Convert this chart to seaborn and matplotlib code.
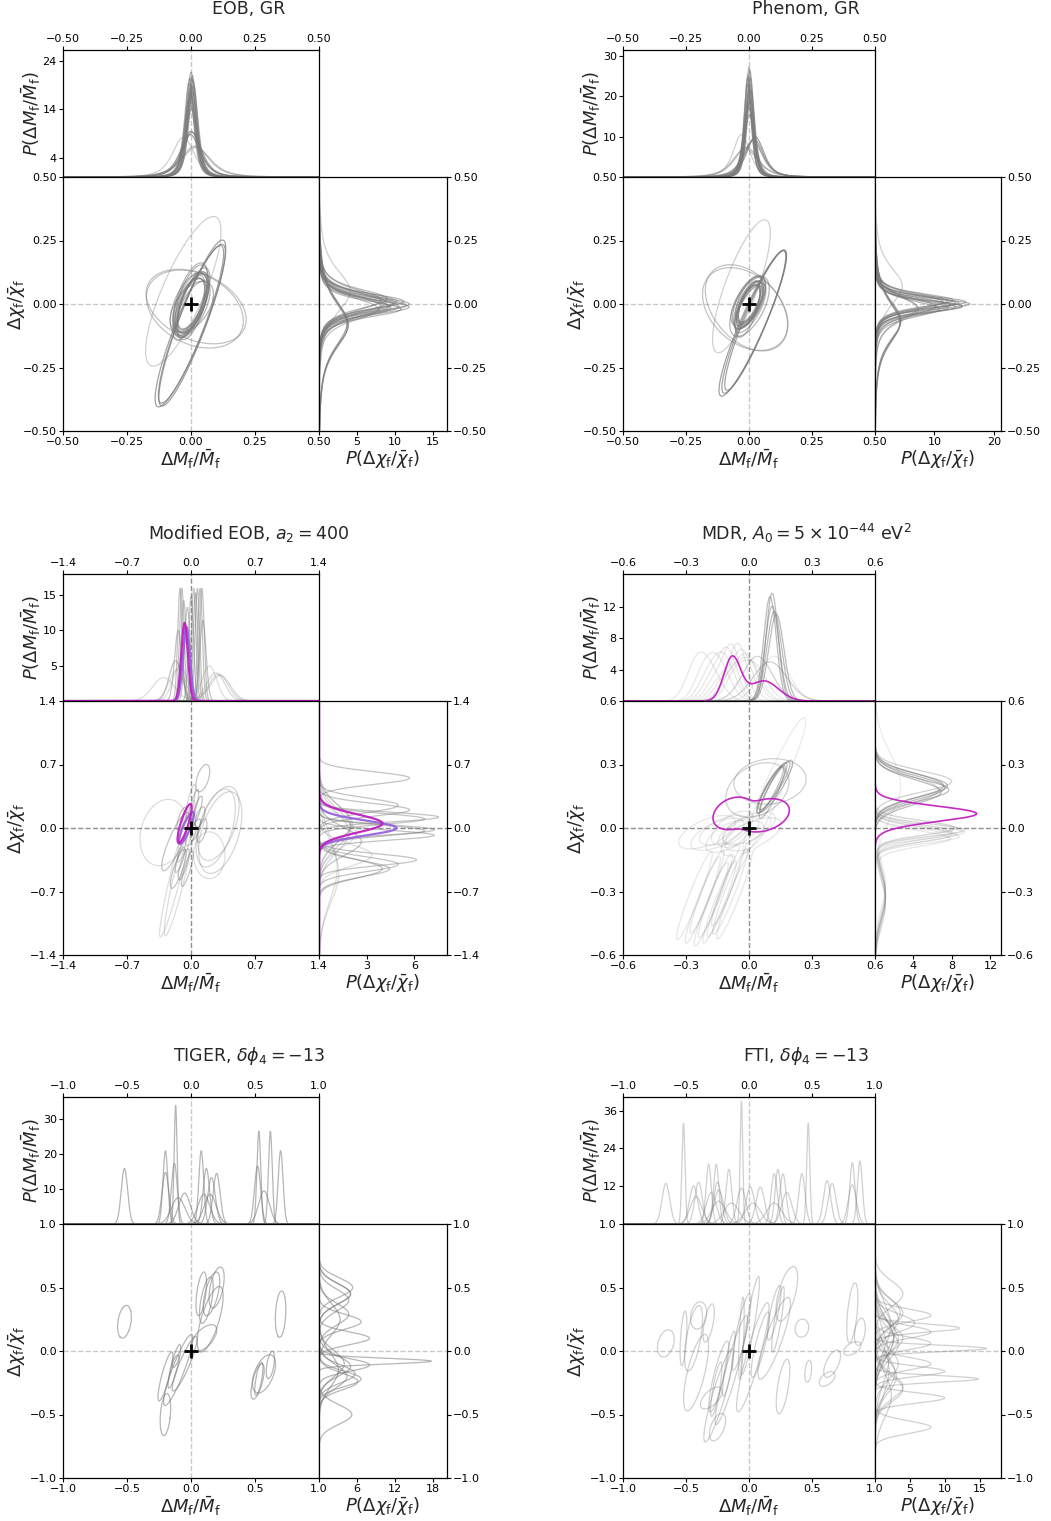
import numpy as np
import matplotlib
matplotlib.use("Agg")
import matplotlib.pyplot as plt
import seaborn as sns
from math import gamma, pi, sqrt

# ---------------------------------------------------------------- data
# each event: centre (X, Y), widths (SX, SY), correlation R
EOBGR_X = [0.0, 0.005, -0.005, 0.008, -0.008, 0.002, -0.003, 0.006, 0.0, -0.006, 0.004, 0.01, -0.002, 0.003,
           0.0, 0.005, -0.003, 0.02, 0.015, -0.03]
EOBGR_Y = [0.0, 0.01, -0.01, 0.005, -0.015, 0.02, -0.005, -0.02, 0.01, 0.0, -0.01, 0.005, 0.015, -0.012,
           -0.08, -0.075, -0.085, -0.01, -0.02, 0.05]
EOBGR_SX = [0.017, 0.0175, 0.018, 0.0185, 0.019, 0.0195, 0.02, 0.021, 0.022, 0.023, 0.018, 0.0195, 0.021, 0.026,
            0.039, 0.04, 0.042, 0.06, 0.058, 0.045]
EOBGR_SY = [0.031, 0.033, 0.035, 0.037, 0.039, 0.041, 0.032, 0.034, 0.036, 0.038, 0.040, 0.042, 0.045, 0.031,
            0.095, 0.1, 0.098, 0.045, 0.047, 0.09]
EOBGR_R = [0.6, 0.65, 0.55, 0.6, 0.7, 0.6, 0.5, 0.65, 0.6, 0.55, 0.6, 0.7, 0.6, 0.5,
           0.9, 0.9, 0.9, -0.35, -0.3, 0.8]

PHEN_X = [0.0, 0.004, -0.004, 0.006, -0.006, 0.002, -0.002, 0.005, 0.0, -0.005, 0.003, 0.008, -0.003, 0.002,
          0.02, 0.025, 0.015, -0.01, -0.015, -0.03]
PHEN_Y = [0.0, 0.008, -0.008, 0.004, -0.012, 0.015, -0.004, -0.015, 0.008, -0.02, -0.01, 0.004, 0.012, -0.01,
          -0.07, -0.065, -0.075, -0.015, -0.02, 0.07]
PHEN_SX = [0.0135, 0.014, 0.0145, 0.015, 0.016, 0.017, 0.018, 0.019, 0.02, 0.015, 0.016, 0.017, 0.021, 0.024,
           0.039, 0.037, 0.041, 0.05, 0.052, 0.035]
PHEN_SY = [0.023, 0.024, 0.025, 0.026, 0.027, 0.028, 0.029, 0.03, 0.032, 0.034, 0.025, 0.027, 0.03, 0.036,
           0.086, 0.084, 0.088, 0.052, 0.05, 0.08]
PHEN_R = [0.65, 0.7, 0.6, 0.65, 0.7, 0.6, 0.65, 0.7, 0.6, 0.65, 0.7, 0.6, 0.65, 0.6,
          0.92, 0.92, 0.92, -0.4, -0.35, 0.8]

MOD_X = [-0.12, -0.08, -0.04, 0.05, 0.10, 0.0, 0.13, -0.05, 0.27, 0.32, 0.30, -0.3, -0.15, -0.12, 0.2,
         0.12, -0.14, -0.1, 0.07, -0.17, 0.03]
MOD_Y = [-0.35, -0.40, -0.45, -0.02, 0.12, -0.08, 0.55, 0.05, 0.0, -0.05, 0.05, -0.05, -0.45, -0.5, -0.3,
         -0.03, -0.45, 0.1, 0.2, -0.15, 0.25]
MOD_SX = [0.025, 0.028, 0.03, 0.026, 0.025, 0.027, 0.035, 0.045, 0.1, 0.11, 0.105, 0.12, 0.09, 0.08, 0.08,
          0.025, 0.04, 0.025, 0.025, 0.07, 0.025]
MOD_SY = [0.065, 0.08, 0.09, 0.055, 0.053, 0.055, 0.07, 0.2, 0.2, 0.21, 0.19, 0.17, 0.35, 0.32, 0.12,
          0.06, 0.1, 0.06, 0.07, 0.15, 0.08]
MOD_R = [0.8, 0.8, 0.85, 0.7, 0.6, 0.7, 0.5, 0.9, 0.5, 0.45, 0.5, 0.2, 0.95, 0.93, 0.0,
         0.6, 0.8, 0.7, 0.8, 0.85, 0.8]
MOD_HL_X = [-0.05, -0.07]
MOD_HL_Y = [0.0, 0.05]
MOD_HL_SX = [0.038, 0.036]
MOD_HL_SY = [0.082, 0.1]
MOD_HL_R = [0.85, 0.82]

MDR_EV = [0, 1, 2, 3, 4, 5, 6, 7, 7, 8, 8, 9, 9, 10, 10, 11, 11, 12, 12, 13, 13, 14, 14, 15, 15, 16, 16, 17]
MDR_X = [0.10, 0.11, 0.12, 0.13, 0.11, 0.10, 0.04, -0.2, -0.26, -0.15, -0.22, -0.12, -0.2, -0.1, -0.18,
         -0.08, -0.16, -0.05, -0.14, -0.03, -0.12, -0.01, -0.1, 0.0, -0.09, 0.02, -0.07, 0.12]
MDR_Y = [0.18, 0.19, 0.20, 0.20, 0.17, 0.22, 0.18, -0.02, -0.32, -0.03, -0.34, -0.01, -0.3, -0.04, -0.36,
         0.0, -0.32, -0.02, -0.35, -0.05, -0.32, -0.01, -0.27, 0.0, -0.3, -0.03, -0.32, 0.2]
MDR_SX = [0.03, 0.033, 0.035, 0.036, 0.029, 0.08, 0.07, 0.06, 0.045, 0.055, 0.045, 0.05, 0.045, 0.045, 0.045,
          0.042, 0.045, 0.04, 0.045, 0.045, 0.045, 0.05, 0.045, 0.055, 0.045, 0.06, 0.045, 0.07]
MDR_SY = [0.052, 0.055, 0.053, 0.056, 0.058, 0.05, 0.06, 0.035, 0.11, 0.033, 0.11, 0.03, 0.11, 0.032, 0.11,
          0.034, 0.11, 0.03, 0.11, 0.036, 0.11, 0.031, 0.11, 0.033, 0.11, 0.035, 0.11, 0.15]
MDR_R = [0.9, 0.9, 0.9, 0.9, 0.9, 0.1, 0.3, 0.6, 0.95, 0.6, 0.95, 0.6, 0.95, 0.6, 0.95,
         0.6, 0.95, 0.6, 0.95, 0.6, 0.95, 0.6, 0.95, 0.6, 0.95, 0.6, 0.95, 0.95]
MDR_W = [1, 1, 1, 1, 1, 1, 1, 0.7, 0.3, 0.7, 0.3, 0.7, 0.3, 0.7, 0.3,
         0.7, 0.3, 0.7, 0.3, 0.7, 0.3, 0.7, 0.3, 0.7, 0.3, 0.7, 0.3, 1]
MDR_HL_EV = [0, 0]
MDR_HL_X = [-0.08, 0.07]
MDR_HL_Y = [0.07, 0.06]
MDR_HL_SX = [0.04, 0.07]
MDR_HL_SY = [0.033, 0.045]
MDR_HL_R = [0.3, 0.3]
MDR_HL_W = [0.55, 0.45]

TIG_X = [-0.52, 0.70, 0.53, 0.52, 0.57, 0.62, -0.2, -0.2, -0.12, -0.13, -0.1, -0.05, 0.08, 0.12, 0.2, 0.1, 0.15, 0.16]
TIG_Y = [0.23, 0.29, -0.22, -0.24, -0.18, -0.11, -0.5, -0.2, -0.08, -0.12, -0.15, -0.1, 0.45, 0.4, 0.5, 0.1, 0.25, 0.45]
TIG_SX = [0.025, 0.019, 0.015, 0.024, 0.042, 0.015, 0.019, 0.027, 0.0117, 0.023, 0.053, 0.045, 0.019, 0.025,
          0.0275, 0.047, 0.047, 0.03]
TIG_SY = [0.06, 0.085, 0.06, 0.065, 0.07, 0.05, 0.077, 0.09, 0.0225, 0.08, 0.13, 0.1, 0.08, 0.085, 0.075,
          0.05, 0.12, 0.08]
TIG_R = [0.3, 0.2, 0.7, 0.65, 0.5, 0.5, 0.3, 0.85, 0.7, 0.85, 0.9, 0.9, 0.5, 0.6, 0.5, 0.6, 0.7, 0.6]

FTI_X = [-0.66, -0.52, -0.44, -0.42, -0.32, -0.26, -0.24, -0.16, -0.24, -0.14, -0.06, -0.06, 0.01, 0.03, 0.09,
         0.2, 0.23, 0.2, 0.27, 0.42, 0.47, 0.62, 0.66, 0.82, 0.82, 0.88, -0.25, -0.3, 0.3, -0.4]
FTI_Y = [0.06, 0.1, 0.1, -0.17, 0.22, -0.3, -0.2, -0.1, -0.35, -0.15, 0.1, 0.15, 0.2, -0.05, 0.05,
         0.3, 0.25, 0.1, -0.28, 0.18, -0.16, -0.22, -0.1, 0.3, 0.02, 0.15, -0.6, -0.37, 0.45, 0.28]
FTI_SX = [0.031, 0.0125, 0.033, 0.046, 0.021, 0.021, 0.037, 0.023, 0.055, 0.06, 0.0102, 0.035, 0.034, 0.06, 0.034,
          0.025, 0.023, 0.06, 0.025, 0.025, 0.0125, 0.029, 0.031, 0.0205, 0.032, 0.02, 0.03, 0.04, 0.04, 0.03]
FTI_SY = [0.05, 0.1, 0.12, 0.14, 0.07, 0.1, 0.13, 0.12, 0.17, 0.2, 0.15, 0.14, 0.18, 0.2, 0.12,
          0.1, 0.12, 0.15, 0.1, 0.033, 0.04, 0.027, 0.05, 0.11, 0.025, 0.05, 0.05, 0.04, 0.1, 0.05]
FTI_R = [0.3, 0.5, 0.6, 0.7, 0.6, 0.8, 0.85, 0.85, 0.9, 0.93, 0.6, 0.85, 0.9, 0.9, 0.85,
         0.8, 0.85, 0.85, 0.6, 0.1, 0.3, 0.5, 0.6, 0.5, 0.5, 0.3, 0.5, 0.6, 0.6, 0.2]

TITLES = ["EOB, GR", "Phenom, GR", r"Modified EOB, $a_2 = 400$",
          r"MDR, $A_0 = 5 \times 10^{-44}$ eV$^2$", r"TIGER, $\delta\phi_4 = -13$", r"FTI, $\delta\phi_4 = -13$"]
MAIN_TICKS = [[-0.5, -0.25, 0, 0.25, 0.5], [-0.5, -0.25, 0, 0.25, 0.5], [-1.4, -0.7, 0, 0.7, 1.4],
              [-0.6, -0.3, 0, 0.3, 0.6], [-1, -0.5, 0, 0.5, 1], [-1, -0.5, 0, 0.5, 1]]
TOP_YTICKS = [[4, 14, 24], [10, 20, 30], [5, 10, 15], [4, 8, 12], [10, 20, 30], [12, 24, 36]]
TOP_YMAX = [26.2, 31.4, 18.0, 16.2, 36.4, 40.3]
RIGHT_XTICKS = [[5, 10, 15], [10, 20], [3, 6], [4, 8, 12], [6, 12, 18], [5, 10, 15]]
RIGHT_XMAX = [16.8, 21.2, 8.05, 13.1, 20.2, 18.0]

# ---------------------------------------------------------------- style
sns.set_style("ticks")
plt.rcParams["font.family"] = ["DejaVu Sans"]
plt.rcParams["mathtext.fontset"] = "dejavusans"
plt.rcParams.update({"xtick.labelsize": 8, "ytick.labelsize": 8, "axes.labelsize": 13,
                     "axes.edgecolor": "black", "axes.linewidth": 0.9,
                     "xtick.color": "black", "ytick.color": "black",
                     "xtick.major.size": 3, "ytick.major.size": 3,
                     "xtick.major.pad": 1.5, "ytick.major.pad": 1.5})

W_PX, H_PX = 1051, 1521
fig = plt.figure(figsize=(W_PX / 100, H_PX / 100), dpi=100)

COLS = [(63, 319, 447), (623, 875, 1001)]
ROWS = [(50, 177, 431), (574, 701, 955), (1097, 1224, 1478)]


def box(x0, y0, x1, y1):
    return [x0 / W_PX, 1 - y1 / H_PX, (x1 - x0) / W_PX, (y1 - y0) / H_PX]


def pdf2(X, Y, mx, my, sx, sy, r, nu):
    dx = (X - mx) / sx
    dy = (Y - my) / sy
    q = (dx * dx - 2 * r * dx * dy + dy * dy) / (1 - r * r)
    norm = 1.0 / (2 * pi * sx * sy * sqrt(1 - r * r))
    if nu:
        return norm * (1 + q / nu) ** (-(nu + 2) / 2)
    return norm * np.exp(-q / 2)


def pdf1(x, m, s, nu):
    z = (x - m) / s
    if nu:
        c = gamma((nu + 1) / 2) / (gamma(nu / 2) * sqrt(nu * pi) * s)
        return c * (1 + z * z / nu) ** (-(nu + 1) / 2)
    return np.exp(-z * z / 2) / (sqrt(2 * pi) * s)


def make_events(X, Y, SX, SY, R, EV=None, W=None):
    n = len(X)
    EV = list(range(n)) if EV is None else EV
    W = [1.0] * n if W is None else W
    events = {}
    for i in range(n):
        events.setdefault(EV[i], []).append((X[i], Y[i], SX[i], SY[i], R[i], W[i]))
    return list(events.values())


def draw_event(ax_m, ax_t, ax_r, comps, nu, lim, color, alpha, lw):
    k = 10 if nu else 5
    x0 = min(c[0] - k * c[2] for c in comps)
    x1 = max(c[0] + k * c[2] for c in comps)
    y0 = min(c[1] - k * c[3] for c in comps)
    y1 = max(c[1] + k * c[3] for c in comps)
    gx = np.linspace(x0, x1, 320)
    gy = np.linspace(y0, y1, 320)
    GX, GY = np.meshgrid(gx, gy)
    Z = sum(c[5] * pdf2(GX, GY, c[0], c[1], c[2], c[3], c[4], nu) for c in comps)
    zs = np.sort(Z.ravel())[::-1]
    cs = np.cumsum(zs)
    lvl = zs[np.searchsorted(cs, 0.9 * cs[-1])]
    ax_m.contour(GX, GY, Z, levels=[lvl], colors=[color], linewidths=lw, alpha=alpha)
    xs = np.linspace(-lim, lim, 1200)
    px = sum(c[5] * pdf1(xs, c[0], c[2], nu) for c in comps)
    py = sum(c[5] * pdf1(xs, c[1], c[3], nu) for c in comps)
    sns.lineplot(x=xs, y=px, ax=ax_t, color=color, alpha=alpha, lw=lw, estimator=None, sort=False)
    sns.lineplot(x=py, y=xs, ax=ax_r, color=color, alpha=alpha, lw=lw, estimator=None, sort=False, orient="y")


GRAY = "#7a7a7a"
panels = [
    dict(events=make_events(EOBGR_X, EOBGR_Y, EOBGR_SX, EOBGR_SY, EOBGR_R), nu=3,
         alpha=[0.55] * 14 + [0.7] * 3 + [0.45] * 2 + [0.35], zc="#c8c8c8"),
    dict(events=make_events(PHEN_X, PHEN_Y, PHEN_SX, PHEN_SY, PHEN_R), nu=3,
         alpha=[0.55] * 14 + [0.7] * 3 + [0.45] * 2 + [0.35], zc="#c8c8c8"),
    dict(events=make_events(MOD_X, MOD_Y, MOD_SX, MOD_SY, MOD_R), nu=None,
         alpha=[0.45] * 7 + [0.3] * 4 + [0.25] * 4 + [0.45] * 6, zc="#909090",
         hl=make_events(MOD_HL_X, MOD_HL_Y, MOD_HL_SX, MOD_HL_SY, MOD_HL_R),
         hlc=["#9664dc", "#c020c0"], hlw=1.6),
    dict(events=make_events(MDR_X, MDR_Y, MDR_SX, MDR_SY, MDR_R, MDR_EV, MDR_W), nu=None,
         alpha=[0.5] * 5 + [0.35] * 2 + [0.18] * 10 + [0.15], zc="#909090",
         hl=make_events(MDR_HL_X, MDR_HL_Y, MDR_HL_SX, MDR_HL_SY, MDR_HL_R, MDR_HL_EV, MDR_HL_W),
         hlc=["#c020c0"], hlw=1.2),
    dict(events=make_events(TIG_X, TIG_Y, TIG_SX, TIG_SY, TIG_R), nu=None,
         alpha=[0.55] * 18, zc="#c8c8c8"),
    dict(events=make_events(FTI_X, FTI_Y, FTI_SX, FTI_SY, FTI_R), nu=None,
         alpha=[0.35] * 30, zc="#c8c8c8"),
]

XLAB = r"$\Delta M_{\rm f}/\bar{M}_{\rm f}$"
YLAB = r"$\Delta\chi_{\rm f}/\bar{\chi}_{\rm f}$"
TLAB = r"$P(\Delta M_{\rm f}/\bar{M}_{\rm f})$"
RLAB = r"$P(\Delta\chi_{\rm f}/\bar{\chi}_{\rm f})$"

for i, p in enumerate(panels):
    c0, c1, c2 = COLS[i % 2]
    r0, r1, r2 = ROWS[i // 2]
    ax_t = fig.add_axes(box(c0, r0, c1, r1))
    ax_m = fig.add_axes(box(c0, r1, c1, r2))
    ax_r = fig.add_axes(box(c1, r1, c2, r2))
    ticks = MAIN_TICKS[i]
    lim = ticks[-1]

    ax_m.axvline(0, color=p["zc"], ls="--", lw=1, zorder=0)
    ax_m.axhline(0, color=p["zc"], ls="--", lw=1, zorder=0)
    ax_t.axvline(0, color=p["zc"], ls="--", lw=1, zorder=0)
    ax_r.axhline(0, color=p["zc"], ls="--", lw=1, zorder=0)

    for comps, a in zip(p["events"], p["alpha"]):
        draw_event(ax_m, ax_t, ax_r, comps, p["nu"], lim, GRAY, a, 0.9)
    if "hl" in p:
        for comps, col in zip(p["hl"], p["hlc"]):
            draw_event(ax_m, ax_t, ax_r, comps, p["nu"], lim, col, 0.95, p["hlw"])

    ax_m.plot([0], [0], marker="+", color="black", ms=10, mew=2, ls="none", zorder=10)

    mw = c1 - c0
    mh = r2 - r1
    ax_m.set_xlim(-lim, lim)
    ax_m.set_ylim(-lim, lim)
    ax_m.set_xticks(ticks)
    ax_m.set_yticks(ticks)
    ax_m.set_xlabel(XLAB, va="center")
    ax_m.set_ylabel(YLAB, va="center")
    ax_m.xaxis.set_label_coords(0.5, -28.0 / mh)
    ax_m.yaxis.set_label_coords(-46.0 / mw, 0.5)

    ax_t.set_xlim(-lim, lim)
    ax_t.set_ylim(0, TOP_YMAX[i])
    ax_t.set_xticks(ticks)
    ax_t.set_yticks(TOP_YTICKS[i])
    ax_t.xaxis.tick_top()
    ax_t.tick_params(axis="x", top=True, labeltop=True, bottom=False, labelbottom=False)
    ax_t.set_ylabel(TLAB, va="center")
    ax_t.yaxis.set_label_coords(-32.0 / mw, 0.5)
    ax_t.set_xlabel("")

    ax_r.set_ylim(-lim, lim)
    ax_r.set_xlim(0, RIGHT_XMAX[i])
    ax_r.set_yticks(ticks)
    ax_r.set_xticks(RIGHT_XTICKS[i])
    ax_r.yaxis.tick_right()
    ax_r.tick_params(axis="y", right=True, labelright=True, left=False, labelleft=False)
    ax_r.set_xlabel(RLAB, va="center")
    ax_r.xaxis.set_label_coords(0.5, -28.0 / mh)
    ax_r.set_ylabel("")

    fig.text(((c0 + c2) / 2 - 6) / W_PX, 1 - (r0 - 41) / H_PX, TITLES[i],
             ha="center", va="center", fontsize=12.5)

fig.savefig("out.png", dpi=100)
